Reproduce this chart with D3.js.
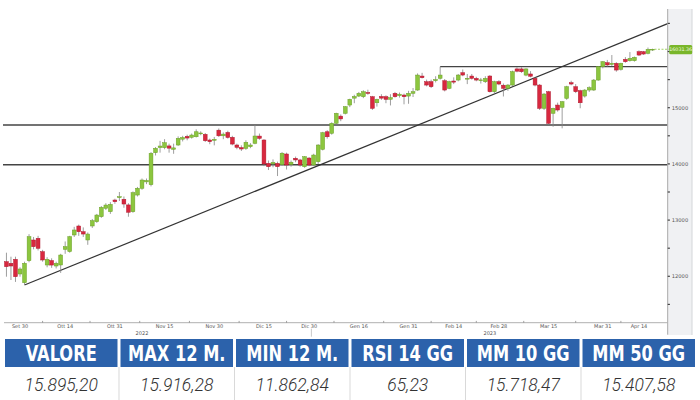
<!DOCTYPE html>
<html><head><meta charset="utf-8">
<script src="https://cdn.jsdelivr.net/npm/d3@7"></script>
<style>html,body{margin:0;padding:0;background:#fff;}svg{display:block;}</style>
</head><body>
<svg id="chart" width="700" height="400"></svg>
<script>
// ---------- DATA ----------
const dates = ["2022-09-27","2022-09-28","2022-09-29","2022-09-30",
"2022-10-03","2022-10-04","2022-10-05","2022-10-06","2022-10-07","2022-10-10","2022-10-11","2022-10-12","2022-10-13","2022-10-14",
"2022-10-17","2022-10-18","2022-10-19","2022-10-20","2022-10-21","2022-10-24","2022-10-25","2022-10-26","2022-10-27","2022-10-28","2022-10-31",
"2022-11-01","2022-11-02","2022-11-03","2022-11-04","2022-11-07","2022-11-08","2022-11-09","2022-11-10","2022-11-11","2022-11-14","2022-11-15",
"2022-11-16","2022-11-17","2022-11-18","2022-11-21","2022-11-22","2022-11-23","2022-11-24","2022-11-25","2022-11-28","2022-11-29","2022-11-30",
"2022-12-01","2022-12-02","2022-12-05","2022-12-06","2022-12-07","2022-12-08","2022-12-09","2022-12-12","2022-12-13","2022-12-14","2022-12-15",
"2022-12-16","2022-12-19","2022-12-20","2022-12-21","2022-12-22","2022-12-23","2022-12-27","2022-12-28","2022-12-29","2022-12-30",
"2023-01-02","2023-01-03","2023-01-04","2023-01-05","2023-01-06","2023-01-09","2023-01-10","2023-01-11","2023-01-12","2023-01-13",
"2023-01-16","2023-01-17","2023-01-18","2023-01-19","2023-01-20","2023-01-23","2023-01-24","2023-01-25","2023-01-26","2023-01-27","2023-01-30","2023-01-31",
"2023-02-01","2023-02-02","2023-02-03","2023-02-06","2023-02-07","2023-02-08","2023-02-09","2023-02-10","2023-02-13","2023-02-14","2023-02-15",
"2023-02-16","2023-02-17","2023-02-20","2023-02-21","2023-02-22","2023-02-23","2023-02-24","2023-02-27","2023-02-28",
"2023-03-01","2023-03-02","2023-03-03","2023-03-06","2023-03-07","2023-03-08","2023-03-09","2023-03-10","2023-03-13","2023-03-14","2023-03-15",
"2023-03-16","2023-03-17","2023-03-20","2023-03-21","2023-03-22","2023-03-23","2023-03-24","2023-03-27","2023-03-28","2023-03-29","2023-03-30","2023-03-31",
"2023-04-03","2023-04-04","2023-04-05","2023-04-06","2023-04-11","2023-04-12","2023-04-13","2023-04-14","2023-04-17","2023-04-18","2023-04-19"];

const openP = [12260,12231,12302,12041,
11886,12278,12646,12676,12438,12201,12280,12183,12201,12480,
12440,12735,12895,12793,12646,12895,12971,13060,13210,13150,13357,
13400,13370,13270,13149,13446,13566,13680,13630,14199,14290,14288,
14320,14260,14336,14440,14490,14473,14483,14535,14526,14425,14420,
14600,14500,14560,14473,14336,14290,14277,14306,14366,14495,14425,
14010,14000,14010,13985,14176,13990,14100,14070,13950,14104,
13980,14039,14259,14572,14544,14722,14850,14900,15047,15170,
15207,15195,15270,15195,15088,15200,15195,15150,15256,15215,15225,15207,
15256,15314,15563,15462,15462,15480,15523,15480,15344,15475,15492,
15622,15510,15563,15522,15480,15462,15563,15284,15462,
15400,15344,15403,15690,15690,15580,15600,15522,15403,14989,15284,
14900,15047,15007,15166,15444,15373,15302,15207,15314,15314,15492,15729,
15800,15770,15789,15682,15860,15836,15836,15996,15996,15967,16030];

const highP = [12420,12349,12349,12160,
12260,12750,12700,12720,12470,12340,12320,12260,12400,12620,
12720,12880,12920,12870,12780,13020,13110,13250,13300,13320,13380,
13500,13420,13300,13510,13590,13740,13740,14210,14300,14410,14440,
14360,14360,14490,14500,14520,14540,14615,14580,14550,14450,14480,
14630,14560,14590,14500,14360,14330,14420,14370,14692,14540,14440,
14060,14080,14040,14210,14200,14060,14130,14090,14140,14120,
14180,14350,14570,14600,14740,14910,14880,15030,15160,15230,
15280,15310,15320,15210,15160,15240,15220,15240,15280,15270,15250,15300,
15350,15610,15620,15500,15500,15560,15730,15510,15480,15540,15600,
15680,15600,15600,15550,15530,15560,15580,15480,15490,
15430,15420,15660,15720,15720,15700,15650,15540,15420,15260,15300,
15000,15090,15120,15390,15480,15420,15320,15330,15380,15510,15740,15830,
15850,15937,15810,15800,15900,15990,15910,16020,16010,16070,16050];

const lowP = [11993,11934,11900,11993,
11845,12250,12480,12460,12260,12160,12150,12140,12060,12400,
12420,12700,12720,12700,12560,12860,12950,13040,13180,13110,13290,
13340,13220,13060,13130,13420,13540,13640,13600,14150,14200,14260,
14200,14180,14320,14400,14420,14450,14470,14510,14390,14350,14330,
14480,14440,14450,14330,14260,14230,14250,14280,14350,14430,13960,
13891,13940,13784,13970,13900,13950,14030,13950,13930,13960,
13970,14000,14240,14450,14520,14700,14760,14880,15010,15080,
15190,15170,15230,14960,15020,15140,15080,15040,15180,15180,15060,15070,
15190,15300,15520,15380,15350,15450,15500,15290,15330,15420,15470,
15560,15420,15500,15470,15430,15440,15270,15260,15400,
15200,15300,15390,15630,15620,15560,15540,15380,14960,14960,14700,
14661,14930,14633,15140,15400,15260,14990,15180,15280,15300,15480,15700,
15730,15740,15640,15660,15800,15820,15820,15920,15940,15950,16010];

const closeP = [12171,12183,11993,12130,
12231,12704,12527,12498,12290,12302,12200,12231,12379,12527,
12705,12824,12793,12752,12752,12989,13090,13227,13268,13280,13327,
13416,13286,13140,13487,13566,13713,13705,14188,14277,14318,14377,
14280,14285,14455,14470,14460,14514,14572,14550,14412,14395,14438,
14500,14530,14470,14353,14295,14265,14384,14336,14496,14455,13998,
13950,14025,13951,14190,13980,14030,14070,13980,14128,13980,
14158,14336,14555,14483,14722,14900,14800,15017,15149,15200,
15256,15284,15255,14989,15149,15170,15149,15178,15195,15240,15195,15256,
15284,15581,15533,15403,15373,15500,15581,15314,15462,15455,15581,
15581,15522,15522,15492,15495,15522,15284,15462,15421,
15345,15403,15640,15650,15640,15690,15560,15403,14989,15243,14722,
14989,14959,15106,15373,15421,15284,15088,15314,15355,15492,15729,15818,
15760,15790,15670,15789,15818,15878,15896,15937,15955,16038,16040];

const xTickDates  = ["2022-09-30","2022-10-14","2022-10-31","2022-11-15","2022-11-30","2022-12-15","2022-12-30",
                     "2023-01-16","2023-01-31","2023-02-14","2023-02-28","2023-03-15","2023-03-31","2023-04-14"];
const xTickLabels = ["Set 30","Ott 14","Ott 31","Nov 15","Nov 30","Dic 15","Dic 30",
                     "Gen 16","Gen 31","Feb 14","Feb 28","Mar 15","Mar 31","Apr 14"];
const yearLabels = ["2022","2023"];
const yearLabelDates = ["2022-11-08","2023-02-24"];
const yTickValues = [12000,13000,14000,15000];
const yMinorValues = [11500,12500,13500,14500,15500,16000,16500];

const supportLevels = [13985,14692];        // full-width horizontal lines
const resistanceLevel = 15730;              // from Feb 9 to the end
const resistanceStart = "2023-02-09";
const trendAnchors = [["2022-10-03",11845],["2023-04-19",16386]];
const lastPriceLabel = "16031.36";

const tableHeaders = ["VALORE","MAX 12 M.","MIN 12 M.","RSI 14 GG","MM 10 GG","MM 50 GG"];
const tableValues  = ["15.895,20","15.916,28","11.862,84","65,23","15.718,47","15.407,58"];

// ---------- CHART ----------
const svg = d3.select("#chart");
const plotL = 3, plotR = 667.7, plotT = 9, plotB = 322.7;

const data = dates.map((t,i)=>({t, o:openP[i], h:highP[i], l:lowP[i], c:closeP[i]}));

const x = d3.scalePoint().domain(dates).range([6.45, 652.5]);
const y = d3.scaleLinear().domain([12000,15000]).range([276.3,107.7]);

// right grey band
svg.append("rect").attr("x",plotR).attr("y",plotT).attr("width",692-plotR).attr("height",335-plotT)
  .attr("fill","#f0f1f3");
svg.append("line").attr("x1",692).attr("x2",692).attr("y1",plotT).attr("y2",335)
  .attr("stroke","#d4d6d9").attr("stroke-width",1);

const defs = svg.append("defs");
defs.append("clipPath").attr("id","clip").append("rect")
  .attr("x",plotL).attr("y",plotT).attr("width",plotR-plotL).attr("height",plotB-plotT);

const g = svg.append("g").attr("clip-path","url(#clip)");

// horizontal support lines
g.selectAll("line.sup").data(supportLevels).join("line").attr("class","sup")
  .attr("x1",plotL).attr("x2",plotR).attr("y1",d=>y(d)).attr("y2",d=>y(d))
  .attr("stroke","#444").attr("stroke-width",1.4);
// resistance line
g.append("line").attr("x1",x(resistanceStart)).attr("x2",plotR)
  .attr("y1",y(resistanceLevel)).attr("y2",y(resistanceLevel))
  .attr("stroke","#444").attr("stroke-width",1.4);

// trendline, extended to the right edge
{
  const x1 = x(trendAnchors[0][0]), y1 = y(trendAnchors[0][1]);
  const x2 = x(trendAnchors[1][0]), y2 = y(trendAnchors[1][1]);
  const slope = (y2-y1)/(x2-x1);
  g.append("line").attr("x1",x1).attr("y1",y1).attr("x2",plotR).attr("y2",y1+slope*(plotR-x1))
    .attr("stroke","#333").attr("stroke-width",1.2);
}

// candles
const bw = 3.8;
const up = "#8cc63f", upS = "#6b9f27", dn = "#d8283f", dnS = "#b0182e";
const cg = g.append("g");
cg.selectAll("line.wick").data(data).join("line").attr("class","wick")
  .attr("x1",d=>x(d.t)).attr("x2",d=>x(d.t)).attr("y1",d=>y(d.h)).attr("y2",d=>y(d.l))
  .attr("stroke","#858585").attr("stroke-width",0.8);
cg.selectAll("rect.body").data(data).join("rect").attr("class","body")
  .attr("x",d=>x(d.t)-bw/2).attr("width",bw)
  .attr("y",d=>y(Math.max(d.o,d.c)))
  .attr("height",d=>Math.max(0.8, Math.abs(y(d.o)-y(d.c))))
  .attr("fill",d=>d.c>=d.o?up:dn).attr("stroke",d=>d.c>=d.o?upS:dnS).attr("stroke-width",0.5);

// last price dashed line
const last = data[data.length-1];
svg.append("line").attr("x1",x(last.t)+2).attr("x2",plotR+2).attr("y1",y(last.c)).attr("y2",y(last.c))
  .attr("stroke","#8cc63f").attr("stroke-width",0.8).attr("stroke-dasharray","2,1.5");

// Y axis
svg.append("line").attr("x1",plotR).attr("x2",plotR).attr("y1",plotT).attr("y2",plotB+12)
  .attr("stroke","#a8a8a8").attr("stroke-width",1);
svg.selectAll("rect.ytick").data(yTickValues.concat(yMinorValues)).join("rect").attr("class","ytick")
  .attr("x",plotR).attr("y",d=>y(d)-0.6).attr("width",2.2).attr("height",1.2).attr("fill","#444");
svg.selectAll("text.ylab").data(yTickValues).join("text").attr("class","ylab")
  .attr("x",plotR+4).attr("y",d=>y(d)).attr("dy","0.35em")
  .attr("font-family","DejaVu Sans, sans-serif").attr("font-size",5.2).attr("fill","#555")
  .text(d=>d);

// price label
svg.append("rect").attr("x",plotR+1.5).attr("y",y(last.c)-4.3).attr("width",23).attr("height",9.2)
  .attr("rx",1.5).attr("fill","#79b62a");
svg.append("text").attr("x",plotR+13).attr("y",y(last.c)+0.3).attr("dy","0.35em").attr("text-anchor","middle")
  .attr("font-family","DejaVu Sans, sans-serif").attr("font-size",4.8).attr("fill","#f4ffe0")
  .text(lastPriceLabel);

// X axis
svg.append("line").attr("x1",plotL+1).attr("x2",plotR).attr("y1",plotB).attr("y2",plotB)
  .attr("stroke","#b0b0b0").attr("stroke-width",1);
svg.selectAll("text.xlab").data(xTickDates).join("text").attr("class","xlab")
  .attr("x",d=>x(d)).attr("y",plotB+5.2).attr("text-anchor","middle")
  .attr("font-family","DejaVu Sans, sans-serif").attr("font-size",5).attr("fill","#555")
  .text((d,i)=>xTickLabels[i]);
const midTicks = xTickDates.slice(1).map((d,i)=>(x(d)+x(xTickDates[i]))/2);
svg.selectAll("line.xminor").data(midTicks).join("line").attr("class","xminor")
  .attr("x1",d=>d).attr("x2",d=>d).attr("y1",plotB-1.8).attr("y2",plotB)
  .attr("stroke","#888").attr("stroke-width",0.8);
svg.selectAll("text.year").data(yearLabelDates).join("text").attr("class","year")
  .attr("x",d=>x(d)).attr("y",plotB+12.5).attr("text-anchor","middle")
  .attr("font-family","DejaVu Sans, sans-serif").attr("font-size",5).attr("fill","#555")
  .text((d,i)=>yearLabels[i]);
{
  const xs = (x("2022-12-30")+x("2023-01-02"))/2;
  svg.append("line").attr("x1",xs).attr("x2",xs).attr("y1",plotB+6).attr("y2",plotB+14)
    .attr("stroke","#bbb").attr("stroke-width",0.8);
}

// ---------- TABLE ----------
const tx = d3.scaleBand().domain(tableHeaders).range([5,695]).paddingInner(0.026).paddingOuter(0);
const headTop = 339, headH = 28, rowBottom = 400;
svg.selectAll("rect.head").data(tableHeaders).join("rect").attr("class","head")
  .attr("x",d=>tx(d)).attr("y",headTop).attr("width",tx.bandwidth()).attr("height",headH)
  .attr("fill","#2c62ab");
svg.selectAll("text.head").data(tableHeaders).join("text").attr("class","head")
  .attr("transform",d=>`translate(${tx(d)+tx.bandwidth()/2},${headTop+21.5}) scale(0.86,1)`)
  .attr("text-anchor","middle")
  .attr("font-family","'Liberation Sans Narrow','DejaVu Sans Condensed','Arial Narrow',sans-serif")
  .attr("font-weight","bold").attr("font-size",21).attr("fill","#fff")
  .text(d=>d);
svg.selectAll("line.sep").data(tableHeaders.slice(1)).join("line").attr("class","sep")
  .attr("x1",d=>tx(d)-tx.step()*tx.paddingInner()/2).attr("x2",d=>tx(d)-tx.step()*tx.paddingInner()/2)
  .attr("y1",headTop+headH).attr("y2",rowBottom)
  .attr("stroke","#d9d9d9").attr("stroke-width",1);
svg.selectAll("text.val").data(tableValues).join("text").attr("class","val")
  .attr("x",(d,i)=>tx(tableHeaders[i])+tx.bandwidth()/2).attr("y",390.5).attr("text-anchor","middle")
  .attr("font-family","Roboto, 'Open Sans', sans-serif").attr("font-weight",300).attr("font-style","italic")
  .attr("font-size",17.5).attr("fill","#333")
  .text(d=>d);
</script>
</body></html>
